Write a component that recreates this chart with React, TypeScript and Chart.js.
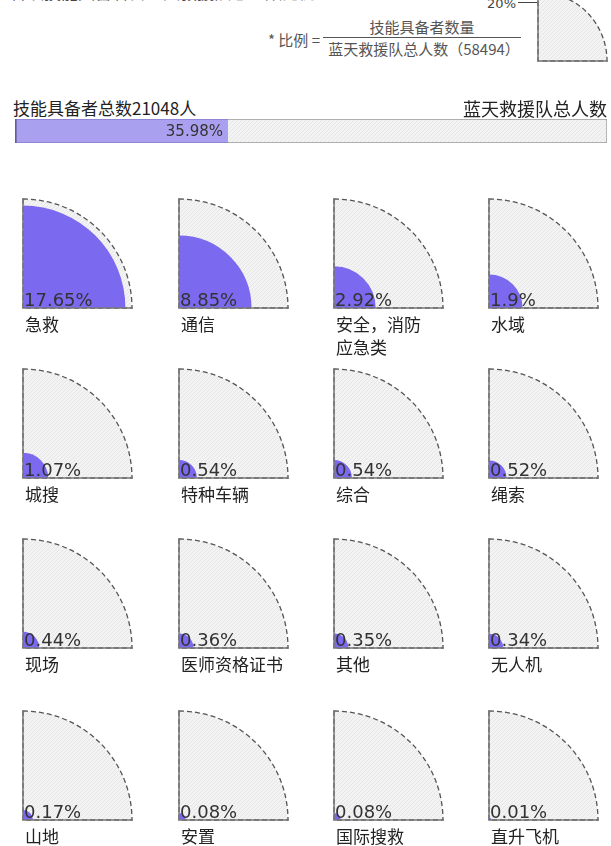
import React, { useEffect, useRef } from 'react';
import { Chart, registerables, RadialLinearScale } from 'chart.js';

Chart.register(...registerables);

// Area-proportional radial scale: radius grows with sqrt(value)
class RadialSqrtScale extends RadialLinearScale {
  static id = 'radialSqrt';
  static defaults = RadialLinearScale.defaults;
  getDistanceFromCenterForValue(value: number) {
    if (value == null || isNaN(value)) return NaN;
    const t = Math.max(0, (value - this.min) / (this.max - this.min));
    return this.drawingArea * Math.sqrt(t);
  }
}
Chart.register(RadialSqrtScale as any);

// ---------------- DATA ----------------
const TITLE = '各项技能具备者占蓝天救援队总人数比例';
const SKILLED_TOTAL = 21048;
const TEAM_TOTAL = 58494;
const SKILLED_SHARE = [35.98];
const FULL_SHARE = [100];
const MAX_PCT = 20;

const categories: string[][] = [
  ['急救'], ['通信'], ['安全，消防', '应急类'], ['水域'],
  ['城搜'], ['特种车辆'], ['综合'], ['绳索'],
  ['现场'], ['医师资格证书'], ['其他'], ['无人机'],
  ['山地'], ['安置'], ['国际搜救'], ['直升飞机'],
];
const shares = [
  17.65, 8.85, 2.92, 1.9,
  1.07, 0.54, 0.54, 0.52,
  0.44, 0.36, 0.35, 0.34,
  0.17, 0.08, 0.08, 0.01,
];

// ---------------- STYLE ----------------
const BLUE = 'rgb(123,106,240)';
const BLUE_LIGHT = 'rgba(123,106,240,0.6)';
const CJK = '"Noto Sans CJK SC", "Noto Sans", sans-serif';
const NUM = '"DejaVu Sans", sans-serif';
const COL_X = [23, 179, 334, 489];
const ROW_Y = [308, 478, 648, 820];
const R = 109;
const PAD = 4;

let tileCache: HTMLCanvasElement | null = null;
function hatch(ctx: CanvasRenderingContext2D) {
  if (!tileCache) {
    const c = document.createElement('canvas');
    c.width = 4; c.height = 4;
    const g = c.getContext('2d')!;
    g.fillStyle = '#f3f3f3';
    g.fillRect(0, 0, 4, 4);
    g.strokeStyle = '#e6e6e6';
    g.lineWidth = 1;
    g.beginPath(); g.moveTo(0, 4); g.lineTo(4, 0); g.stroke();
    tileCache = c;
  }
  return ctx.createPattern(tileCache, 'repeat') as any;
}

function QuarterChart({ value, lines, ox, oy, radius }: { value: number | null; lines: string[]; ox: number; oy: number; radius: number }) {
  const ref = useRef<HTMLCanvasElement>(null);
  useEffect(() => {
    const canvas = ref.current!;
    const datasets: any[] = [];
    if (value != null) {
      datasets.push({ data: [value], backgroundColor: BLUE, borderWidth: 0, angle: 90 });
    }
    datasets.push({
      data: [MAX_PCT],
      backgroundColor: (c: any) => hatch(c.chart.ctx),
      borderColor: '#555',
      borderWidth: 1.3,
      borderDash: [5, 3],
      angle: 90,
    });
    const overlay = {
      id: 'quarterOverlay',
      afterDatasetsDraw(chart: any) {
        const s = chart.scales.r;
        const cx = s.xCenter, cy = s.yCenter, rr = s.drawingArea;
        const ctx = chart.ctx as CanvasRenderingContext2D;
        ctx.save();
        ctx.strokeStyle = '#777';
        ctx.lineWidth = 1.5;
        ctx.beginPath();
        ctx.moveTo(cx, cy - rr - 1);
        ctx.lineTo(cx, cy);
        ctx.lineTo(cx + rr + 1, cy);
        ctx.stroke();
        if (value != null) {
          ctx.fillStyle = '#333';
          ctx.font = `18px ${NUM}`;
          ctx.textAlign = 'left';
          ctx.textBaseline = 'alphabetic';
          ctx.fillText(`${value}%`, cx + 1, cy - 2);
        }
        ctx.fillStyle = '#222';
        ctx.font = `17px ${CJK}`;
        ctx.textBaseline = 'middle';
        lines.forEach((ln, i) => ctx.fillText(ln, cx + 2, cy + 17 + i * 23));
        ctx.restore();
      },
    };
    const chart = new Chart(canvas, {
      type: 'polarArea',
      data: { labels: ['x'], datasets },
      options: {
        responsive: false,
        animation: false,
        events: [],
        layout: { padding: PAD },
        plugins: { legend: { display: false }, tooltip: { enabled: false } },
        scales: {
          r: {
            type: 'radialSqrt',
            min: 0,
            max: MAX_PCT,
            ticks: { display: false },
            grid: { display: false },
            angleLines: { display: false },
            pointLabels: { display: false },
          } as any,
        },
      } as any,
      plugins: [overlay],
    });
    return () => chart.destroy();
  }, []);
  const S = 2 * radius + 2 * PAD;
  return (
    <canvas
      ref={ref}
      width={S}
      height={S}
      style={{ position: 'absolute', left: ox - radius - PAD, top: oy - radius - PAD, width: S, height: S }}
    />
  );
}

function ShareBar() {
  const ref = useRef<HTMLCanvasElement>(null);
  useEffect(() => {
    const labelPlugin = {
      id: 'barLabel',
      afterDatasetsDraw(chart: any) {
        const el = chart.getDatasetMeta(0).data[0];
        const ctx = chart.ctx as CanvasRenderingContext2D;
        ctx.save();
        ctx.fillStyle = '#333';
        ctx.font = `15px ${NUM}`;
        ctx.textAlign = 'right';
        ctx.textBaseline = 'middle';
        ctx.fillText(`${SKILLED_SHARE[0]}%`, el.x - 5, el.y + 1);
        ctx.restore();
      },
    };
    const chart = new Chart(ref.current!, {
      type: 'bar',
      data: {
        labels: ['share'],
        datasets: [
          {
            data: SKILLED_SHARE,
            backgroundColor: BLUE_LIGHT,
            borderColor: '#666',
            borderWidth: { left: 1.5, top: 0, right: 0, bottom: 0 },
            borderSkipped: false,
          },
          {
            data: FULL_SHARE,
            backgroundColor: (c: any) => hatch(c.chart.ctx),
            borderColor: '#999',
            borderWidth: 1,
            borderSkipped: false,
          },
        ],
      },
      options: {
        indexAxis: 'y',
        responsive: false,
        animation: false,
        events: [],
        layout: { padding: { left: 15, right: 4, top: 9, bottom: 7 } },
        datasets: { bar: { grouped: false, barPercentage: 1, categoryPercentage: 1 } },
        plugins: { legend: { display: false }, tooltip: { enabled: false } },
        scales: {
          x: { display: false, min: 0, max: 100 },
          y: { display: false },
        },
      } as any,
      plugins: [labelPlugin],
    });
    return () => chart.destroy();
  }, []);
  return <canvas ref={ref} width={611} height={40} style={{ position: 'absolute', left: 0, top: 110, width: 611, height: 40 }} />;
}

export default function App() {
  return (
    <div style={{ position: 'absolute', left: 0, top: 0, width: 611, height: 846, overflow: 'hidden', background: '#fff', fontFamily: CJK, color: '#222' }}>
      <div style={{ position: 'absolute', left: 10, top: -21, fontSize: 17, whiteSpace: 'nowrap', color: '#444' }}>{TITLE}</div>

      {/* formula legend */}
      <div style={{ position: 'absolute', left: 268, top: 29, fontSize: 15, color: '#555', whiteSpace: 'nowrap' }}>* 比例 =</div>
      <div style={{ position: 'absolute', left: 323, width: 198, top: 16, fontSize: 15, color: '#555', textAlign: 'center', whiteSpace: 'nowrap' }}>技能具备者数量</div>
      <div style={{ position: 'absolute', left: 323, width: 198, top: 37, height: 1, background: '#555' }} />
      <div style={{ position: 'absolute', left: 323, width: 202, top: 38, fontSize: 15, color: '#555', textAlign: 'center', whiteSpace: 'nowrap' }}>蓝天救援队总人数（{TEAM_TOTAL}）</div>
      <div style={{ position: 'absolute', left: 470, width: 46, top: -4, fontSize: 13, color: '#444', textAlign: 'right', fontFamily: NUM }}>{MAX_PCT}%</div>
      <div style={{ position: 'absolute', left: 518, width: 19, top: 2, height: 1, background: '#444' }} />
      <QuarterChart value={null} lines={[]} ox={538} oy={61} radius={69} />

      {/* total bar */}
      <div style={{ position: 'absolute', left: 13, top: 96, fontSize: 17, lineHeight: '24px', whiteSpace: 'nowrap' }}>技能具备者总数{SKILLED_TOTAL}人</div>
      <div style={{ position: 'absolute', right: 4, top: 96, fontSize: 18, lineHeight: '24px', whiteSpace: 'nowrap' }}>蓝天救援队总人数</div>
      <ShareBar />

      {shares.map((v, i) => (
        <QuarterChart key={i} value={v} lines={categories[i]} ox={COL_X[i % 4]} oy={ROW_Y[Math.floor(i / 4)]} radius={R} />
      ))}
    </div>
  );
}
